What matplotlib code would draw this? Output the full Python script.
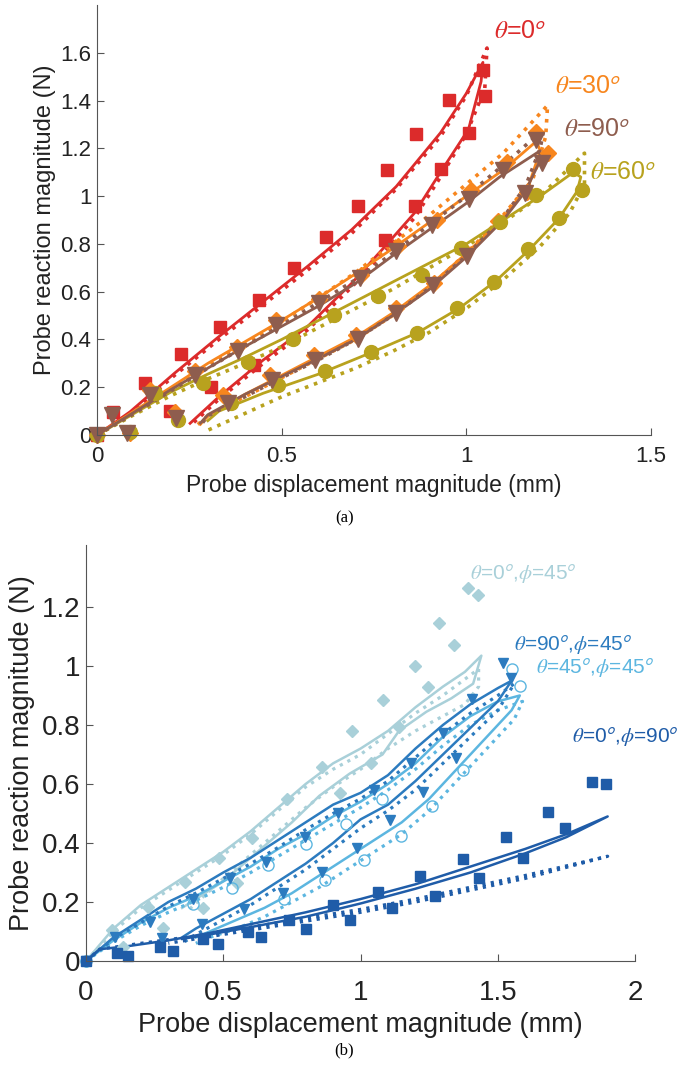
import matplotlib
matplotlib.use('Agg')
import matplotlib.pyplot as plt

plt.rcParams['font.family'] = ['Liberation Sans', 'DejaVu Sans']
plt.rcParams['mathtext.fontset'] = 'stix'

# ---------- panel (a): theta series ----------
# markers (loading then unloading)
a0_mx = [0, 0.044, 0.13, 0.228, 0.332, 0.438, 0.534, 0.62, 0.708, 0.786, 0.863, 0.952, 1.044,
         1.05, 1.006, 0.932, 0.86, 0.781, 0.424, 0.31, 0.198]
a0_my = [0, 0.095, 0.217, 0.34, 0.454, 0.566, 0.699, 0.827, 0.957, 1.108, 1.262, 1.402, 1.527,
         1.418, 1.265, 1.114, 0.957, 0.815, 0.293, 0.20, 0.10]
a30_mx = [0, 0.09, 0.144, 0.21, 0.266, 0.378, 0.486, 0.6, 0.714, 0.816, 0.92, 1.012, 1.11, 1.188,
          1.22, 1.164, 1.086, 0.996, 0.912, 0.81, 0.70, 0.588, 0.468, 0.342]
a30_my = [0, 0.007, 0.19, 0.098, 0.27, 0.37, 0.48, 0.57, 0.67, 0.79, 0.90, 1.024, 1.143, 1.27,
          1.18, 1.017, 0.895, 0.77, 0.636, 0.53, 0.42, 0.335, 0.25, 0.168]
a90_mx = [0, 0.04, 0.08, 0.144, 0.214, 0.266, 0.382, 0.486, 0.60, 0.712, 0.81, 0.906, 1.006, 1.098, 1.188,
          1.206, 1.158, 1.002, 0.91, 0.81, 0.708, 0.589, 0.474, 0.354]
a90_my = [0, 0.084, 0.007, 0.168, 0.07, 0.25, 0.35, 0.46, 0.552, 0.657, 0.77, 0.88, 0.99, 1.108, 1.237,
          1.14, 1.013, 0.748, 0.63, 0.51, 0.40, 0.315, 0.23, 0.135]
a60_mx = [0, 0.09, 0.156, 0.219, 0.287, 0.41, 0.532, 0.641, 0.762, 0.879, 0.985, 1.09, 1.19, 1.29,
          1.312, 1.252, 1.168, 1.075, 0.975, 0.867, 0.743, 0.618, 0.491, 0.364]
a60_my = [0, 0.014, 0.175, 0.063, 0.218, 0.307, 0.40, 0.503, 0.58, 0.672, 0.783, 0.89, 1.006, 1.114,
          1.024, 0.908, 0.778, 0.642, 0.532, 0.429, 0.348, 0.268, 0.21, 0.133]

# model curves: solid and dotted loops
a0_sx = [0, 0.09, 0.21, 0.33, 0.45, 0.57, 0.69, 0.81, 0.93, 1.0, 1.045, 1.04, 1.006, 0.93, 0.86, 0.78, 0.69, 0.57, 0.45, 0.33, 0.252]
a0_sy = [0, 0.098, 0.259, 0.412, 0.559, 0.706, 0.86, 1.04, 1.265, 1.43, 1.56, 1.48, 1.28, 1.10, 0.93, 0.79, 0.636, 0.454, 0.314, 0.16, 0.049]
a0_dx = [0, 0.09, 0.21, 0.33, 0.45, 0.57, 0.69, 0.81, 0.93, 1.0, 1.056, 1.05, 1.0, 0.93, 0.86, 0.78, 0.69, 0.57, 0.45, 0.33, 0.26]
a0_dy = [0, 0.09, 0.25, 0.40, 0.545, 0.69, 0.845, 1.03, 1.25, 1.42, 1.62, 1.45, 1.26, 1.08, 0.91, 0.77, 0.62, 0.44, 0.30, 0.15, 0.05]

a30_sx = [0, 0.1, 0.2, 0.3, 0.4, 0.5, 0.6, 0.7, 0.8, 0.9, 1.0, 1.1, 1.19, 1.20, 1.17, 1.1, 1.0, 0.9, 0.8, 0.7, 0.6, 0.5, 0.4, 0.3, 0.28]
a30_sy = [0, 0.10, 0.2, 0.3, 0.39, 0.48, 0.575, 0.675, 0.78, 0.89, 1.0, 1.11, 1.23, 1.19, 1.05, 0.91, 0.76, 0.625, 0.51, 0.41, 0.33, 0.25, 0.17, 0.08, 0.045]
a30_dx = [0, 0.1, 0.2, 0.3, 0.4, 0.5, 0.6, 0.7, 0.8, 0.9, 1.0, 1.1, 1.22, 1.215, 1.18, 1.1, 1.0, 0.9, 0.8, 0.7, 0.6, 0.5, 0.4, 0.3, 0.27]
a30_dy = [0, 0.095, 0.19, 0.29, 0.38, 0.475, 0.575, 0.68, 0.8, 0.92, 1.05, 1.18, 1.38, 1.25, 1.07, 0.92, 0.76, 0.62, 0.5, 0.40, 0.32, 0.24, 0.16, 0.08, 0.04]

a90_sx = [0, 0.1, 0.2, 0.3, 0.4, 0.5, 0.6, 0.7, 0.8, 0.9, 1.0, 1.09, 1.2, 1.2, 1.16, 1.1, 1.0, 0.9, 0.8, 0.7, 0.6, 0.5, 0.4, 0.3, 0.28]
a90_sy = [0, 0.095, 0.19, 0.28, 0.37, 0.455, 0.54, 0.635, 0.75, 0.86, 0.97, 1.08, 1.19, 1.15, 1.02, 0.9, 0.745, 0.61, 0.5, 0.40, 0.32, 0.245, 0.17, 0.085, 0.05]
a90_dx = [0, 0.1, 0.2, 0.3, 0.4, 0.5, 0.6, 0.7, 0.8, 0.9, 1.0, 1.1, 1.21, 1.2, 1.16, 1.1, 1.0, 0.9, 0.8, 0.7, 0.6, 0.5, 0.4, 0.3, 0.28]
a90_dy = [0, 0.09, 0.185, 0.28, 0.37, 0.46, 0.555, 0.65, 0.76, 0.88, 1.0, 1.13, 1.28, 1.2, 1.04, 0.91, 0.75, 0.615, 0.5, 0.4, 0.315, 0.24, 0.16, 0.08, 0.04]

a60_sx = [0, 0.1, 0.2, 0.3, 0.4, 0.5, 0.6, 0.7, 0.8, 0.9, 1.0, 1.1, 1.2, 1.29, 1.31, 1.3, 1.25, 1.17, 1.08, 0.98, 0.87, 0.75, 0.6, 0.45, 0.33, 0.3]
a60_sy = [0, 0.09, 0.18, 0.255, 0.325, 0.40, 0.48, 0.56, 0.64, 0.72, 0.80, 0.90, 1.0, 1.10, 1.08, 1.02, 0.905, 0.775, 0.645, 0.53, 0.43, 0.35, 0.255, 0.175, 0.10, 0.06]
a60_dx = [0, 0.1, 0.2, 0.3, 0.4, 0.5, 0.6, 0.7, 0.8, 0.9, 1.0, 1.1, 1.2, 1.32, 1.32, 1.28, 1.2, 1.1, 1.0, 0.9, 0.8, 0.7, 0.6, 0.5, 0.4, 0.3]
a60_dy = [0, 0.085, 0.165, 0.235, 0.30, 0.37, 0.45, 0.53, 0.61, 0.70, 0.79, 0.89, 1.0, 1.18, 1.05, 0.93, 0.79, 0.65, 0.53, 0.43, 0.35, 0.28, 0.22, 0.16, 0.09, 0.02]

# ---------- panel (b): theta/phi series ----------
b045_mx = [0, 0.094, 0.227, 0.36, 0.485, 0.606, 0.731, 0.861, 0.97, 1.083, 1.198, 1.287, 1.392,
           1.426, 1.340, 1.247, 1.14, 1.037, 0.925, 0.549, 0.425, 0.282, 0.136]
b045_my = [0, 0.105, 0.184, 0.269, 0.35, 0.416, 0.548, 0.659, 0.78, 0.885, 1.0, 1.145, 1.263,
           1.241, 1.071, 0.93, 0.794, 0.67, 0.568, 0.263, 0.179, 0.111, 0.048]
b9045_mx = [0, 0.106, 0.233, 0.388, 0.524, 0.655, 0.798, 0.919, 1.049, 1.182, 1.301, 1.405, 1.517,
            1.547, 1.347, 1.228, 1.107, 0.988, 0.858, 0.718, 0.575, 0.424, 0.277]
b9045_my = [0, 0.082, 0.133, 0.209, 0.28, 0.337, 0.421, 0.50, 0.58, 0.672, 0.774, 0.887, 1.009,
            0.958, 0.687, 0.574, 0.478, 0.382, 0.303, 0.232, 0.176, 0.125, 0.078]
b4545_mx = [0, 0.391, 0.53, 0.664, 0.80, 0.948, 1.078, 1.552,
            1.582, 1.374, 1.259, 1.147, 1.011, 0.87, 0.723]
b4545_my = [0, 0.193, 0.246, 0.325, 0.395, 0.464, 0.55, 0.99,
            0.931, 0.647, 0.526, 0.424, 0.344, 0.275, 0.21]
b090_mx = [0, 0.112, 0.27, 0.427, 0.59, 0.74, 0.901, 1.064, 1.216, 1.372, 1.528, 1.684, 1.842,
           1.894, 1.744, 1.592, 1.431, 1.271, 1.113, 0.961, 0.80, 0.636, 0.479, 0.318, 0.154]
b090_my = [0, 0.028, 0.048, 0.073, 0.10, 0.14, 0.19, 0.235, 0.288, 0.345, 0.419, 0.506, 0.606,
           0.599, 0.45, 0.35, 0.28, 0.22, 0.179, 0.139, 0.107, 0.08, 0.058, 0.035, 0.018]

b045_sx = [0, 0.1, 0.2, 0.3, 0.4, 0.5, 0.6, 0.7, 0.8, 0.9, 1.0, 1.1, 1.2, 1.3, 1.38, 1.44,
           1.41, 1.33, 1.24, 1.14, 1.08, 0.96, 0.85, 0.75, 0.6, 0.5, 0.35]
b045_sy = [0, 0.11, 0.19, 0.25, 0.31, 0.37, 0.44, 0.52, 0.60, 0.67, 0.72, 0.78, 0.86, 0.93, 0.98, 1.035,
           0.94, 0.89, 0.845, 0.78, 0.70, 0.635, 0.56, 0.47, 0.35, 0.27, 0.18]
b045_dx = [0, 0.1, 0.2, 0.3, 0.4, 0.5, 0.6, 0.7, 0.8, 0.9, 1.0, 1.1, 1.2, 1.3, 1.43, 1.43,
           1.38, 1.3, 1.2, 1.1, 1.0, 0.9, 0.8, 0.7, 0.6, 0.5, 0.37]
b045_dy = [0, 0.10, 0.18, 0.24, 0.30, 0.36, 0.43, 0.51, 0.59, 0.65, 0.70, 0.77, 0.84, 0.90, 0.99, 0.93,
           0.87, 0.83, 0.78, 0.72, 0.65, 0.59, 0.52, 0.44, 0.36, 0.28, 0.17]

b9045_sx = [0, 0.1, 0.2, 0.3, 0.4, 0.5, 0.6, 0.7, 0.8, 0.9, 1.0, 1.1, 1.2, 1.3, 1.4, 1.5, 1.55,
            1.5, 1.4, 1.3, 1.2, 1.1, 1.0, 0.9, 0.8, 0.7, 0.6, 0.5, 0.4, 0.35]
b9045_sy = [0, 0.08, 0.14, 0.20, 0.245, 0.30, 0.35, 0.41, 0.47, 0.53, 0.57, 0.63, 0.72, 0.80, 0.87, 0.925, 0.95,
            0.88, 0.79, 0.70, 0.61, 0.53, 0.48, 0.40, 0.33, 0.27, 0.21, 0.16, 0.11, 0.08]
b9045_dx = [0, 0.1, 0.2, 0.3, 0.4, 0.5, 0.6, 0.7, 0.8, 0.9, 1.0, 1.1, 1.2, 1.3, 1.4, 1.5, 1.56,
            1.5, 1.4, 1.3, 1.2, 1.1, 1.0, 0.9, 0.8, 0.7, 0.6, 0.5, 0.4, 0.35]
b9045_dy = [0, 0.075, 0.13, 0.185, 0.23, 0.28, 0.33, 0.385, 0.445, 0.50, 0.55, 0.61, 0.69, 0.77, 0.84, 0.90, 0.94,
            0.85, 0.76, 0.67, 0.58, 0.51, 0.45, 0.38, 0.31, 0.25, 0.19, 0.14, 0.09, 0.06]

b4545_sx = [0, 0.1, 0.2, 0.3, 0.4, 0.5, 0.6, 0.7, 0.8, 0.9, 1.0, 1.1, 1.2, 1.3, 1.4, 1.5, 1.58,
            1.55, 1.45, 1.35, 1.25, 1.15, 1.05, 0.95, 0.85, 0.75, 0.65, 0.55, 0.45, 0.4]
b4545_sy = [0, 0.07, 0.13, 0.18, 0.22, 0.27, 0.32, 0.38, 0.43, 0.49, 0.54, 0.60, 0.67, 0.76, 0.83, 0.88, 0.90,
            0.85, 0.75, 0.65, 0.55, 0.47, 0.41, 0.35, 0.29, 0.23, 0.18, 0.14, 0.10, 0.08]
b4545_dx = [0, 0.1, 0.2, 0.3, 0.4, 0.5, 0.6, 0.7, 0.8, 0.9, 1.0, 1.1, 1.2, 1.3, 1.4, 1.5, 1.59,
            1.56, 1.45, 1.35, 1.25, 1.15, 1.05, 0.95, 0.85, 0.75, 0.65, 0.55, 0.45, 0.4]
b4545_dy = [0, 0.065, 0.12, 0.165, 0.205, 0.25, 0.30, 0.355, 0.41, 0.465, 0.52, 0.58, 0.65, 0.73, 0.80, 0.85, 0.88,
            0.82, 0.71, 0.61, 0.51, 0.43, 0.37, 0.31, 0.25, 0.20, 0.15, 0.11, 0.08, 0.06]

b090_sx = [0, 0.05, 0.15, 0.3, 0.45, 0.6, 0.8, 1.0, 1.2, 1.4, 1.6, 1.75, 1.9,
           1.75, 1.6, 1.4, 1.2, 1.0, 0.8, 0.6, 0.45, 0.35]
b090_sy = [0, 0.04, 0.05, 0.07, 0.095, 0.125, 0.165, 0.21, 0.26, 0.32, 0.38, 0.43, 0.49,
           0.42, 0.365, 0.30, 0.245, 0.195, 0.15, 0.115, 0.09, 0.075]
b090_dx = [0, 0.05, 0.2, 0.4, 0.6, 0.8, 1.0, 1.2, 1.4, 1.6, 1.9,
           1.6, 1.4, 1.2, 1.0, 0.8, 0.6, 0.4, 0.3]
b090_dy = [0, 0.04, 0.06, 0.085, 0.115, 0.145, 0.175, 0.21, 0.25, 0.29, 0.355,
           0.28, 0.24, 0.20, 0.165, 0.135, 0.105, 0.075, 0.06]

a_cols = {'0': '#dc2b2b', '30': '#f7861e', '90': '#8e5d4e', '60': '#b8a21e'}
b_cols = {'045': '#a9d0d9', '9045': '#2c7bbf', '4545': '#5cb6e0', '090': '#1f5ca8'}


def style_axes(ax, fs, xpad, ypad):
    for s in ['top', 'right']:
        ax.spines[s].set_visible(False)
    for s in ['left', 'bottom']:
        ax.spines[s].set_color('#555555')
    ax.tick_params(direction='in', length=5, color='#555555', labelsize=fs, labelcolor='#222222')
    ax.tick_params(axis='x', pad=xpad)
    ax.tick_params(axis='y', pad=ypad)


fig = plt.figure(figsize=(6.89, 10.71), dpi=100)

# ---- (a)
ax1 = fig.add_axes([0.1408, 0.5938, 0.804, 0.4015])
series_a = [
    (a0_sx, a0_sy, a0_dx, a0_dy, a0_mx, a0_my, a_cols['0'], 's', 9),
    (a30_sx, a30_sy, a30_dx, a30_dy, a30_mx, a30_my, a_cols['30'], 'D', 8.5),
    (a60_sx, a60_sy, a60_dx, a60_dy, a60_mx, a60_my, a_cols['60'], 'o', 10),
    (a90_sx, a90_sy, a90_dx, a90_dy, a90_mx, a90_my, a_cols['90'], 'v', 11),
]
for sx, sy, dx, dy, mx, my, c, m, ms in series_a:
    ax1.plot(sx, sy, '-', color=c, lw=2.0)
    ax1.plot(dx, dy, ':', color=c, lw=2.6)
for sx, sy, dx, dy, mx, my, c, m, ms in series_a:
    ax1.plot(mx, my, m, color=c, ms=ms, mec=c, ls='none', clip_on=False)

ax1.set_xlim(0, 1.5)
ax1.set_ylim(0, 1.8)
ax1.set_xticks([0, 0.5, 1, 1.5])
ax1.set_xticklabels(['0', '0.5', '1', '1.5'])
ax1.set_yticks([0, 0.2, 0.4, 0.6, 0.8, 1.0, 1.2, 1.4, 1.6])
ax1.set_yticklabels(['0', '0.2', '0.4', '0.6', '0.8', '1', '1.2', '1.4', '1.6'])
style_axes(ax1, 16, 8, 4)
ax1.set_xlabel('Probe displacement magnitude (mm)', fontsize=16.5, color='#222222', labelpad=5)
ax1.set_ylabel('Probe reaction magnitude (N)', fontsize=17, color='#222222', labelpad=3)

lab_a = [('0', 1.075, 1.69), ('30', 1.24, 1.46), ('90', 1.265, 1.28), ('60', 1.335, 1.10)]
for k, x, y in lab_a:
    ax1.text(x, y, r'$\theta$=' + k + r'$^{\mathsf{o}}$', color=a_cols[k], fontsize=18,
             ha='left', va='center')
fig.text(0.5, 0.516, '(a)', ha='center', va='center', fontsize=12, family='Liberation Serif')

# ---- (b)
ax2 = fig.add_axes([0.1248, 0.1027, 0.797, 0.3884])
series_b = [
    (b045_sx, b045_sy, b045_dx, b045_dy, b045_mx, b045_my, b_cols['045'], 'D', 6, True),
    (b4545_sx, b4545_sy, b4545_dx, b4545_dy, b4545_mx, b4545_my, b_cols['4545'], 'o', 8, False),
    (b9045_sx, b9045_sy, b9045_dx, b9045_dy, b9045_mx, b9045_my, b_cols['9045'], 'v', 7.5, True),
    (b090_sx, b090_sy, b090_dx, b090_dy, b090_mx, b090_my, b_cols['090'], 's', 6.5, True),
]
for sx, sy, dx, dy, mx, my, c, m, ms, filled in series_b:
    ax2.plot(sx, sy, '-', color=c, lw=1.8)
    ax2.plot(dx, dy, ':', color=c, lw=2.3)
for sx, sy, dx, dy, mx, my, c, m, ms, filled in series_b:
    ax2.plot(mx, my, m, color=c, ms=ms, mec=c, mfc=c if filled else 'none', mew=1.0,
             ls='none', clip_on=False)

ax2.set_xlim(0, 2)
ax2.set_ylim(0, 1.41)
ax2.set_xticks([0, 0.5, 1, 1.5, 2])
ax2.set_xticklabels(['0', '0.5', '1', '1.5', '2'])
ax2.set_yticks([0, 0.2, 0.4, 0.6, 0.8, 1.0, 1.2])
ax2.set_yticklabels(['0', '0.2', '0.4', '0.6', '0.8', '1', '1.2'])
style_axes(ax2, 20, 14, 4)
ax2.set_xlabel('Probe displacement magnitude (mm)', fontsize=19.5, color='#222222', labelpad=4)
ax2.set_ylabel('Probe reaction magnitude (N)', fontsize=19.5, color='#222222', labelpad=5)

lab_b = [('045', '0', 1.40, 1.31), ('9045', '90', 1.56, 1.07), ('4545', '45', 1.64, 0.99),
         ('090', '0', 1.77, 0.755)]
for k, th, x, y in lab_b:
    ph = '90' if k == '090' else '45'
    ax2.text(x, y, r'$\theta$=' + th + r'$^{\mathsf{o}}$,$\phi$=' + ph + r'$^{\mathsf{o}}$',
             color=b_cols[k], fontsize=15, ha='left', va='center')
fig.text(0.5, 0.019, '(b)', ha='center', va='center', fontsize=12, family='Liberation Serif')

fig.savefig('out.png', dpi=100)
